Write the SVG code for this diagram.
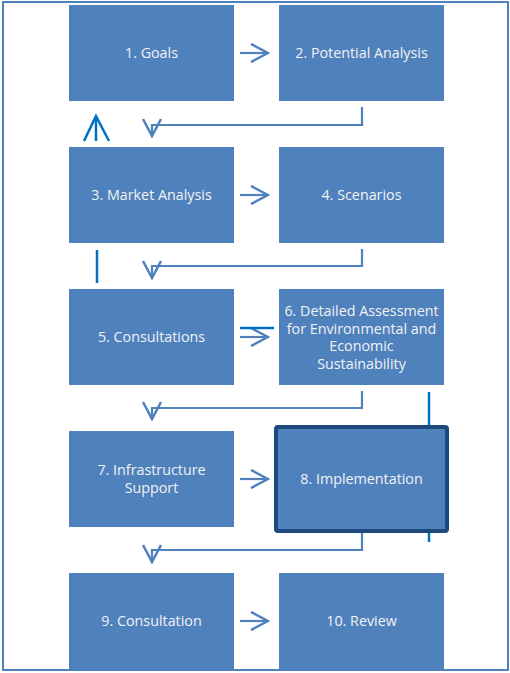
<svg xmlns="http://www.w3.org/2000/svg" width="510" height="673" viewBox="0 0 510 673">
<style>
.box{fill:#4F81BD}
.lbl{font-family:"Open Sans","Liberation Sans",sans-serif;font-size:14.3px;fill:#F2F2F2;text-anchor:middle}
.con{fill:none;stroke:#4F81BD;stroke-width:2.2}
.acc{fill:none;stroke:#0070C0;stroke-width:2.5}
</style>
<defs>
<marker id="ah" viewBox="0 0 20 20" refX="18" refY="10" markerWidth="20" markerHeight="20" markerUnits="userSpaceOnUse" orient="auto">
<path d="M1,1 L18,10 L1,19" fill="none" stroke="#4F81BD" stroke-width="2.5"/>
</marker>
</defs>
<rect x="3" y="2" width="505" height="668" fill="#fff" stroke="#4F81BD" stroke-width="2"/>
<g id="connectors">
<path class="con" d="M240,53 H268" marker-end="url(#ah)"/>
<path class="con" d="M240,195 H268" marker-end="url(#ah)"/>
<path class="con" d="M240,337 H268" marker-end="url(#ah)"/>
<path class="con" d="M240,479 H268" marker-end="url(#ah)"/>
<path class="con" d="M240,621 H268" marker-end="url(#ah)"/>
<path class="con" d="M362,107 V125 H152 V136" marker-end="url(#ah)"/>
<path class="con" d="M362,249 V266 H152 V278" marker-end="url(#ah)"/>
<path class="con" d="M362,391 V408 H152 V419" marker-end="url(#ah)"/>
<path class="con" d="M362,533 V550 H152 V562" marker-end="url(#ah)"/>
<path class="acc" d="M96,141 V117 M84,141 L96,116 L109,141"/>
<path class="acc" d="M97,250 V283"/>
<path class="acc" d="M240,328 H274"/>
<path class="acc" d="M429,392 V542"/>
</g>
<g id="n1"><rect class="box" x="69" y="5" width="165" height="96"/><text class="lbl" x="151.5" y="58">1. Goals</text></g>
<g id="n2"><rect class="box" x="279" y="5" width="165" height="96"/><text class="lbl" x="361.5" y="58">2. Potential Analysis</text></g>
<g id="n3"><rect class="box" x="69" y="147" width="165" height="96"/><text class="lbl" x="151.5" y="200">3. Market Analysis</text></g>
<g id="n4"><rect class="box" x="279" y="147" width="165" height="96"/><text class="lbl" x="361.5" y="200">4. Scenarios</text></g>
<g id="n5"><rect class="box" x="69" y="289" width="165" height="96"/><text class="lbl" x="151.5" y="342">5. Consultations</text></g>
<g id="n6"><rect class="box" x="279" y="289" width="165" height="96"/><text class="lbl" x="361.5" y="316">6. Detailed Assessment</text><text class="lbl" x="361.5" y="333.5">for Environmental and</text><text class="lbl" x="361.5" y="351">Economic</text><text class="lbl" x="361.5" y="368.5">Sustainability</text></g>
<g id="n7"><rect class="box" x="69" y="431" width="165" height="96"/><text class="lbl" x="151.5" y="475">7. Infrastructure</text><text class="lbl" x="151.5" y="493">Support</text></g>
<g id="n8"><rect class="box" x="276" y="427" width="171" height="104" rx="2" stroke="#1F497D" stroke-width="4"/><text class="lbl" x="361.5" y="484">8. Implementation</text></g>
<g id="n9"><rect class="box" x="69" y="573" width="165" height="96"/><text class="lbl" x="151.5" y="626">9. Consultation</text></g>
<g id="n10"><rect class="box" x="279" y="573" width="165" height="96"/><text class="lbl" x="361.5" y="626">10. Review</text></g>
</svg>
